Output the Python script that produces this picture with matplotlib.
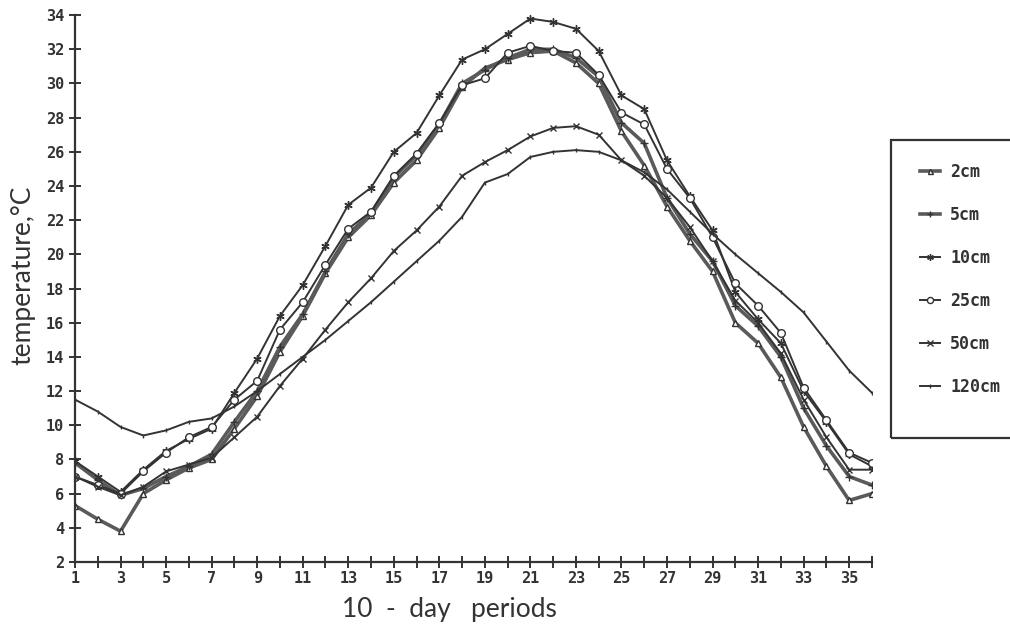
"""
Soil temperature at several depths, by 10-day period
"""

import numpy as np
import matplotlib.pyplot as plt
from matplotlib.patches import Rectangle

periods = np.arange(1, 37)

t_2cm = [5.3, 4.5, 3.8, 6.0, 6.8, 7.5, 8.0, 9.8, 11.7, 14.3, 16.4, 18.9,
         21.0, 22.3, 24.2, 25.5, 27.4, 29.8, 30.9, 31.4, 31.8, 31.9, 31.2, 30.0,
         27.2, 25.2, 22.8, 20.8, 19.0, 16.0, 14.8, 12.8, 9.9, 7.6, 5.6, 6.0]
t_5cm = [7.8, 6.8, 5.9, 6.3, 7.0, 7.6, 8.3, 10.2, 12.0, 14.6, 16.5, 19.0,
         21.2, 22.4, 24.5, 25.8, 27.6, 30.0, 30.8, 31.5, 32.0, 32.0, 31.5, 30.4,
         27.7, 26.5, 23.3, 21.2, 19.6, 17.0, 15.8, 14.0, 11.0, 8.8, 7.0, 6.5]
t_10cm = [7.9, 7.0, 6.1, 7.4, 8.5, 9.2, 9.8, 11.9, 13.9, 16.4, 18.2, 20.5,
          22.9, 23.9, 26.0, 27.1, 29.3, 31.4, 32.0, 32.9, 33.8, 33.6, 33.2, 31.9,
          29.3, 28.5, 25.5, 23.4, 21.4, 17.8, 16.2, 14.8, 12.0, 10.2, 8.3, 7.6]
t_25cm = [7.0, 6.5, 6.0, 7.3, 8.4, 9.3, 9.9, 11.5, 12.6, 15.6, 17.2, 19.4,
          21.5, 22.5, 24.6, 25.9, 27.7, 29.9, 30.3, 31.8, 32.2, 31.9, 31.8, 30.5,
          28.3, 27.6, 25.0, 23.3, 21.0, 18.3, 17.0, 15.4, 12.2, 10.3, 8.4, 7.8]
t_50cm = [7.0, 6.4, 5.9, 6.4, 7.3, 7.7, 8.1, 9.3, 10.5, 12.3, 13.9, 15.6,
          17.2, 18.6, 20.2, 21.4, 22.8, 24.6, 25.4, 26.1, 26.9, 27.4, 27.5, 27.0,
          25.5, 24.6, 23.3, 21.6, 19.6, 17.3, 16.0, 14.2, 11.5, 9.3, 7.4, 7.4]
t_120cm = [11.5, 10.8, 9.9, 9.4, 9.7, 10.2, 10.4, 11.1, 12.0, 13.0, 14.0, 15.0,
           16.1, 17.2, 18.4, 19.6, 20.8, 22.2, 24.2, 24.7, 25.7, 26.0, 26.1, 26.0,
           25.5, 24.8, 23.8, 22.5, 21.2, 20.0, 18.9, 17.8, 16.6, 14.9, 13.2, 11.9]

labels = ['2cm', '5cm', '10cm', '25cm', '50cm', '120cm']
series = [t_2cm, t_5cm, t_10cm, t_25cm, t_50cm, t_120cm]

# estilo de cada profundidade: (cor, largura, marcador, tamanho)
styles = [
    ('#5a5a5a', 2.6, '^', 4.5),
    ('#5a5a5a', 2.6, '+', 6),
    ('#333333', 1.4, (6, 2, 0), 6),
    ('#333333', 1.4, 'o', 5.5),
    ('#333333', 1.4, 'x', 5),
    ('#333333', 1.4, '|', 3.5),
]

tick_font = dict(family='DejaVu Sans Mono', weight='bold', size=11)

fig = plt.figure(figsize=(10.1, 6.3), dpi=100)
ax = fig.add_axes([0.0743, 0.108, 0.789, 0.868])

handles = []
for vals, lab, (col, lw, mk, ms) in zip(series, labels, styles):
    h, = ax.plot(periods, vals, color=col, linewidth=lw, marker=mk,
                 markersize=ms, markerfacecolor='white', markeredgecolor='#333333',
                 markeredgewidth=1.0, label=lab)
    handles.append(h)

ax.set_xlim(1, 36)
ax.set_ylim(2, 34)
ax.set_xticks(np.arange(1, 37))
ax.set_xticklabels([str(p) if p % 2 == 1 else '' for p in range(1, 37)], **tick_font)
ax.set_yticks(np.arange(2, 35, 2))
ax.set_yticklabels([str(v) for v in range(2, 35, 2)], **tick_font)
ax.tick_params(axis='both', direction='inout', length=9, width=1.4, color='#333333',
               labelcolor='#333333')
ax.tick_params(axis='x', pad=2)

for side in ['top', 'right']:
    ax.spines[side].set_visible(False)
for side in ['left', 'bottom']:
    ax.spines[side].set_linewidth(1.6)
    ax.spines[side].set_color('#333333')

ax.set_xlabel('10  -  day   periods', family='Lato', size=19, color='#333333')
ax.set_ylabel('temperature,°C', family='Lato', size=19, color='#333333')
ax.xaxis.set_label_coords(0.47, -0.064)
ax.yaxis.set_label_coords(-0.05, 0.525)

# caixa da legenda (cortada na margem direita)
fig.patches.append(Rectangle((891 / 1010, 1 - 438 / 630), 0.2, 298 / 630,
                             transform=fig.transFigure, fill=False,
                             edgecolor='#333333', linewidth=1.6, clip_on=False))
fig.legend(handles=handles, labels=labels, loc='upper left',
           bbox_to_anchor=(905 / 1010, 1 - 148 / 630), frameon=False,
           prop=dict(family='DejaVu Sans Mono', weight='bold', size=12),
           labelspacing=1.5, handlelength=1.2, handletextpad=0.6,
           markerscale=0.8, labelcolor='#333333')

fig.savefig('out.png', dpi=100)
